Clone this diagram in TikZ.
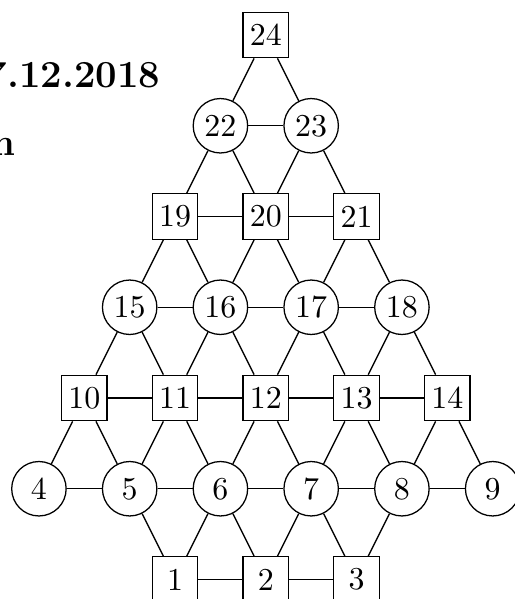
\documentclass[tikz,border=0pt]{standalone}
\usepackage{tikz}
\usetikzlibrary{positioning}
\tikzset{
    field/.style={draw, rectangle, minimum size=0.5cm, inner sep=1pt}, % square fields
    spot/.style={draw, circle, minimum size=0.6cm, inner sep=1pt}, % round fields
    heading/.style={anchor=base east, inner sep=0pt, font=\large\bfseries}, % title lines
}

\begin{document}
\begin{tikzpicture}[
    node distance=1cm,
    on grid,
    % each row sits half a step to the side of the next one
    row/.style={below left=1cm and 0.5cm of #1},
    rowr/.style={below right=1cm and 0.5cm of #1},
]
    \useasboundingbox (-2.929,0.386) rectangle (2.746,-6.215);

    % --- Heading (cut off at the left edge) ---
    \node[heading] (date) at (-1.155,-0.576) {7.12.2018};
    \node[heading] (word) at (-2.753,-1.333) {n};

    % --- Nodes (Fields) ---
    % Row 7
    \node[field] (n24) at (0,0) {24};

    % Row 6
    \node[spot] (n22) [row=n24] {22};
    \node[spot] (n23) [right=of n22] {23};

    % Row 5
    \node[field] (n19) [row=n22] {19};
    \node[field] (n20) [right=of n19] {20};
    \node[field] (n21) [right=of n20] {21};

    % Row 4
    \node[spot] (n15) [row=n19] {15};
    \node[spot] (n16) [right=of n15] {16};
    \node[spot] (n17) [right=of n16] {17};
    \node[spot] (n18) [right=of n17] {18};

    % Row 3
    \node[field] (n10) [row=n15] {10};
    \node[field] (n11) [right=of n10] {11};
    \node[field] (n12) [right=of n11] {12};
    \node[field] (n13) [right=of n12] {13};
    \node[field] (n14) [right=of n13] {14};

    % Row 2
    \node[spot] (n4) [row=n10] {4};
    \node[spot] (n5) [right=of n4] {5};
    \node[spot] (n6) [right=of n5] {6};
    \node[spot] (n7) [right=of n6] {7};
    \node[spot] (n8) [right=of n7] {8};
    \node[spot] (n9) [right=of n8] {9};

    % Row 1
    \node[field] (n1) [rowr=n5] {1};
    \node[field] (n2) [right=of n1] {2};
    \node[field] (n3) [right=of n2] {3};

    % --- Connections ---
    \path
        % Row 7 down
        (n24) edge (n22)
              edge (n23)
        % Row 6
        (n22) edge (n23)
              edge (n19)
              edge (n20)
        (n23) edge (n20)
              edge (n21)
        % Row 5
        (n19) edge (n20)
              edge (n15)
              edge (n16)
        (n20) edge (n21)
              edge (n16)
              edge (n17)
        (n21) edge (n17)
              edge (n18)
        % Row 4
        (n15) edge (n16)
              edge (n10)
              edge (n11)
        (n16) edge (n17)
              edge (n11)
              edge (n12)
        (n17) edge (n18)
              edge (n12)
              edge (n13)
        (n18) edge (n13)
              edge (n14)
        % Row 3
        (n10) edge (n11)
              edge (n4)
              edge (n5)
        (n11) edge (n12)
              edge (n5)
              edge (n6)
        (n12) edge (n13)
              edge (n6)
              edge (n7)
        (n13) edge (n14)
              edge (n7)
              edge (n8)
        (n14) edge (n8)
              edge (n9)
        % Row 2
        (n4)  edge (n5)
        (n5)  edge (n6)
              edge (n1)
        (n6)  edge (n7)
              edge (n1)
              edge (n2)
        (n7)  edge (n8)
              edge (n2)
              edge (n3)
        (n8)  edge (n9)
              edge (n3)
        % Row 1
        (n1)  edge (n2)
        (n2)  edge (n3);

\end{tikzpicture}
\end{document}
